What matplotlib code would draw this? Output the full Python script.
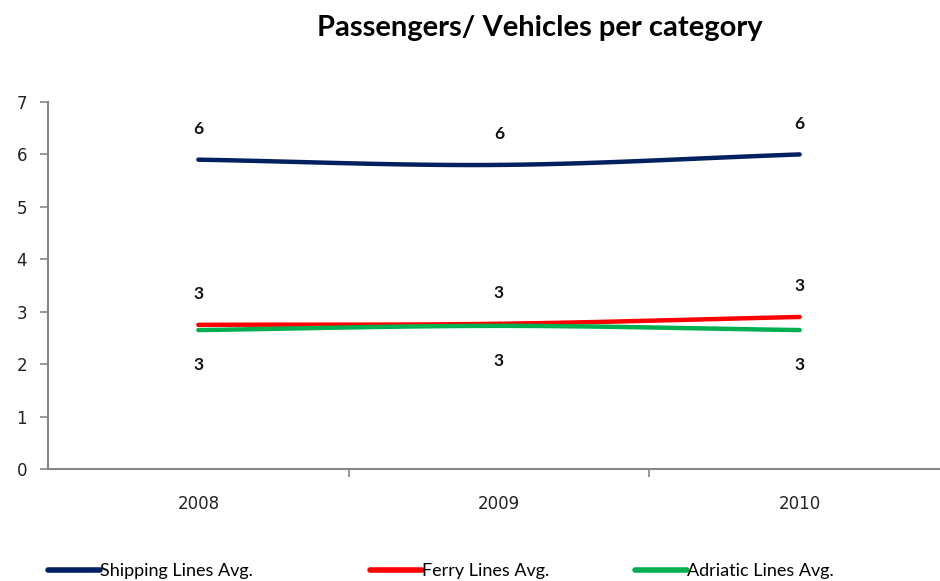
import matplotlib.pyplot as plt
import numpy as np

years = ['2008', '2009', '2010']
shipping = [5.9, 5.8, 6.0]
ferry = [2.75, 2.77, 2.9]
adriatic = [2.65, 2.73, 2.65]

series = [
    ('Shipping Lines Avg.', shipping, '#002060', 'above'),
    ('Ferry Lines Avg.', ferry, '#ff0000', 'above'),
    ('Adriatic Lines Avg.', adriatic, '#00b050', 'below'),
]


def smooth(y, n=40):
    # Catmull-Rom curve through the points, like a spreadsheet "smoothed line"
    y = np.asarray(y, float)
    x = np.arange(len(y), dtype=float)
    px = np.concatenate([[2 * x[0] - x[1]], x, [2 * x[-1] - x[-2]]])
    py = np.concatenate([[2 * y[0] - y[1]], y, [2 * y[-1] - y[-2]]])
    xs, ys = [], []
    t = np.linspace(0, 1, n)
    for i in range(1, len(px) - 2):
        for p, out in ((px, xs), (py, ys)):
            p0, p1, p2, p3 = p[i - 1:i + 3]
            out.append(0.5 * (2 * p1 + (-p0 + p2) * t
                              + (2 * p0 - 5 * p1 + 4 * p2 - p3) * t ** 2
                              + (-p0 + 3 * p1 - 3 * p2 + p3) * t ** 3))
    return np.concatenate(xs), np.concatenate(ys)


fig = plt.figure(figsize=(9.4, 5.81), dpi=100)
ax = fig.add_axes([48 / 940, 112 / 581, 902 / 940, 367 / 581])

lines = []
for name, vals, color, pos in series:
    sx, sy = smooth(vals)
    ln, = ax.plot(sx, sy, color=color, lw=3.2, solid_capstyle='round', label=name)
    lines.append(ln)
    for i, v in enumerate(vals):
        off = 22 if pos == 'above' else -25
        ax.annotate(f'{v:.0f}', (i, v), xytext=(0, off), textcoords='offset points',
                    ha='center', va='center', fontsize=12.5, family='Lato',
                    fontweight='bold', color='#111111')

ax.set_xlim(-0.5, 2.5)
ax.set_ylim(0, 7)
ax.set_xticks(range(len(years)))
ax.set_xticklabels(years, family='DejaVu Sans', fontsize=12)
ax.set_xticks([0.5, 1.5], minor=True)
ax.tick_params(axis='x', which='major', length=0, pad=19, labelcolor='#222222')
ax.tick_params(axis='x', which='minor', length=6, color='#868686', width=1.2)
ax.set_yticks(range(8))
ax.tick_params(axis='y', length=6, color='#868686', width=1.2, pad=9,
               labelsize=12, labelcolor='#222222')
for lab in ax.get_yticklabels():
    lab.set_family('DejaVu Sans')

for s in ('top', 'right'):
    ax.spines[s].set_visible(False)
for s in ('left', 'bottom'):
    ax.spines[s].set_color('#868686')
    ax.spines[s].set_linewidth(1.5)

fig.text(540 / 940, 1 - 28 / 581, 'Passengers/ Vehicles per category',
         ha='center', va='center', fontsize=21, fontweight='bold', family='Lato')

# one legend per series so each entry sits at its own spot along the bottom
for ln, x0 in zip(lines, [48, 370, 635]):
    leg = fig.legend(handles=[ln], loc='center left',
                     bbox_to_anchor=(x0 / 940, 1 - 571 / 581),
                     frameon=False, prop={'family': 'Lato', 'size': 13},
                     handlelength=2.9, handletextpad=0.0, borderaxespad=0,
                     borderpad=0)
    leg.get_lines()[0].set_linewidth(4)

fig.savefig('out.png', dpi=100)
